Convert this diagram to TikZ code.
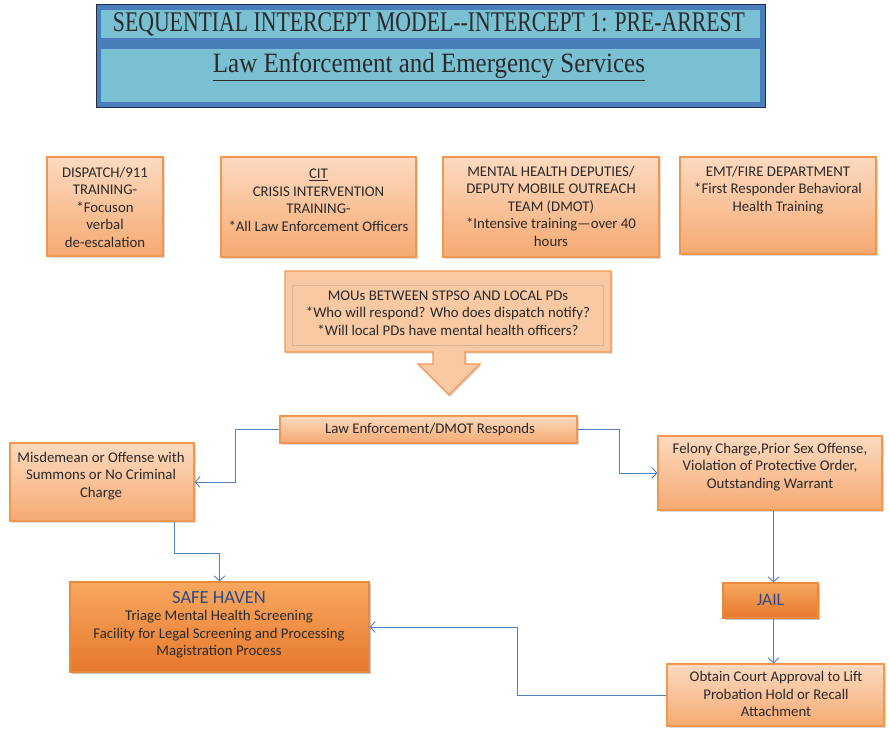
\documentclass[tikz,border=0pt]{standalone}
\usepackage{fontspec}
\setmainfont{Carlito}
\newfontfamily\titlefont{Liberation Serif}
\usetikzlibrary{arrows.meta,shadows,calc}
\definecolor{boxborder}{HTML}{F3964E}
\definecolor{boxtop}{HTML}{FCDAC0}
\definecolor{boxbot}{HTML}{F6AA72}
\definecolor{dtop}{HTML}{F8A860}
\definecolor{dbot}{HTML}{E6782C}
\definecolor{dborder}{HTML}{E98A3E}
\definecolor{txt}{HTML}{2A2A2A}
\definecolor{navy}{HTML}{2C4A8A}
\definecolor{linkblue}{HTML}{4F81BD}
\definecolor{tband}{HTML}{78C0D2}
\definecolor{tframe}{HTML}{4A7EBB}
\definecolor{tline}{HTML}{1F2F4A}
\definecolor{moufill}{HTML}{F9C9A4}
\definecolor{mouinner}{HTML}{DDB594}
\begin{document}
\begin{tikzpicture}[x=1pt,y=-1pt,
  obox/.style={draw=boxborder, line width=1.2pt, top color=boxtop, bottom color=boxbot,
    drop shadow={shadow xshift=1.5pt, shadow yshift=-1.5pt, opacity=0.3}, inner sep=0pt},
  dbox/.style={draw=dborder, line width=1.2pt, top color=dtop, bottom color=dbot,
    drop shadow={shadow xshift=2pt, shadow yshift=-2pt, opacity=0.45}, inner sep=0pt},
  btext/.style={align=center, text=txt, font=\fontsize{14.8}{17.5}\selectfont, inner sep=0pt},
  conn/.style={draw=linkblue, line width=0.9pt, -{Straight Barb[length=5pt,width=11pt]}},
  ttext/.style={text=txt, inner sep=0pt}
]
\useasboundingbox (0,0) rectangle (889,729);

% title block
\draw[draw=tline, fill=tframe, line width=1pt] (96,4) rectangle (765,107);
\fill[tband] (101,10) rectangle (760,38);
\fill[tband] (101,49) rectangle (760,102);
\node[ttext] (title) at (429,24) {\resizebox{632pt}{\height}{\titlefont\fontsize{28.5}{30}\selectfont SEQUENTIAL INTERCEPT MODEL--INTERCEPT 1: PRE-ARREST}};
\node[ttext] (subtitle) at (429,67) {\resizebox{432pt}{\height}{\titlefont\fontsize{28}{30}\selectfont\underline{Law Enforcement and Emergency Services}}};

% top boxes
\node[obox, minimum width=116pt, minimum height=99pt] (dispatch) at (105,206.5) {};
\node[btext] (dispatcht) at (105,207) {DISPATCH/911\\TRAINING-\\*Focuson\\verbal\\de-escalation};
\node[obox, minimum width=195pt, minimum height=100pt] (cit) at (318.5,207) {};
\node[btext] (citt) at (318.5,200) {\underline{CIT}\\CRISIS INTERVENTION\\TRAINING-\\*All Law Enforcement Officers};
\node[obox, minimum width=216pt, minimum height=100pt] (mhd) at (551,207) {};
\node[btext] (mhdt) at (551,206) {MENTAL HEALTH DEPUTIES/\\DEPUTY MOBILE OUTREACH\\TEAM (DMOT)\\*Intensive training---over 40\\hours};
\node[obox, minimum width=196pt, minimum height=97pt] (emt) at (778,205.5) {};
\node[btext] (emtt) at (778,190) {EMT/FIRE DEPARTMENT\\*First Responder Behavioral\\Health Training};

% MOU callout arrow
\path[draw=boxborder, line width=1.2pt, fill=moufill,
  drop shadow={shadow xshift=1.5pt, shadow yshift=-1.5pt, opacity=0.3}]
  (285,271) -- (611,271) -- (611,352) -- (465,352) -- (465,364) -- (480,364)
  -- (449,395) -- (418,364) -- (433,364) -- (433,352) -- (285,352) -- cycle;
\draw[mouinner, line width=0.8pt] (292,285) rectangle (603,345);
\node[btext] (mou) at (448,313) {MOUs BETWEEN STPSO AND LOCAL PDs\\*Who will respond? Who does dispatch notify?\\*Will local PDs have mental health officers?};

% middle row
\node[obox, minimum width=297pt, minimum height=27pt] (le) at (428.5,429.5) {};
\node[btext] (let) at (430,430) {Law Enforcement/DMOT Responds};
\node[obox, minimum width=184pt, minimum height=78pt] (misd) at (102,482) {};
\node[btext] (misdt) at (101,476) {Misdemean or Offense with\\Summons or No Criminal\\Charge};
\node[obox, minimum width=224pt, minimum height=74pt] (fel) at (770,473) {};
\node[btext] (felt) at (770,467) {Felony Charge,Prior Sex Offense,\\Violation of Protective Order,\\Outstanding Warrant};

% bottom row
\node[dbox, minimum width=299pt, minimum height=90pt] (safe) at (219.5,627) {};
\node[btext] (safet) at (219,625) {{\color{navy}\fontsize{18.5}{21}\selectfont SAFE HAVEN}\\Triage Mental Health Screening\\Facility for Legal Screening and Processing\\Magistration Process};
\node[dbox, minimum width=95pt, minimum height=35pt] (jail) at (770.5,600.5) {};
\node[inner sep=0pt, text=navy, font=\fontsize{17.5}{20}\selectfont] (jailt) at (770.5,599.5) {JAIL};
\node[obox, minimum width=217pt, minimum height=62pt] (obtain) at (775.5,695) {};
\node[btext] (obtaint) at (776,694) {Obtain Court Approval to Lift\\Probation Hold or Recall\\Attachment};

% connectors
\draw[conn] (le.west) -- ++(-44,0) |- (misd.east);
\draw[conn] (le.east) -- ++(42,0) |- (fel.west);
\draw[conn] ([xshift=3pt]fel.south -| jail.north) -- ([xshift=3pt]jail.north);
\draw[conn] ([xshift=3pt]jail.south) -- ([xshift=3pt]jail.south |- obtain.north);
\draw[conn] (obtain.west) -- ++(-149,0) |- (safe.east);
\draw[conn] ([xshift=72pt]misd.south) -- ++(0,32) -| (safe.north);
\end{tikzpicture}
\end{document}
